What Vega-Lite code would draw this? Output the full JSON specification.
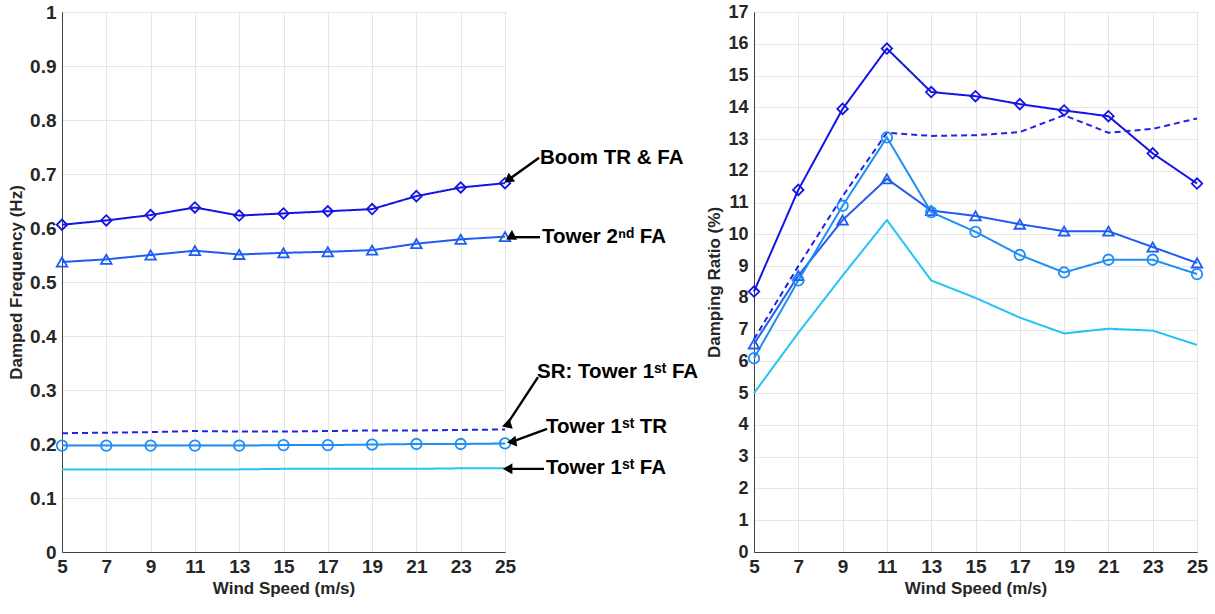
{
  "$schema": "https://vega.github.io/schema/vega-lite/v6.json",
  "padding": {"left": 7, "top": 2, "right": 10, "bottom": 5},
  "bounds": "flush",
  "spacing": 249,
  "background": "white",
  "config": {
    "font": "Liberation Sans",
    "view": {"stroke": "#404040", "strokeWidth": 1},
    "axis": {
      "labelFont": "Liberation Sans", "labelFontWeight": "bold", "labelFontSize": 19, "labelColor": "#262626",
      "titleFont": "Liberation Sans", "titleFontSize": 17, "titleFontWeight": "bold", "titleColor": "#262626",
      "gridColor": "#e6e6e6", "domainColor": "#404040", "ticks": false, "labelFlush": false
    },
    "axisX": {"labelPadding": 5, "titlePadding": 4},
    "axisY": {"labelPadding": 6, "titlePadding": 4}
  },
  "datasets": {
    "freq": [
      {"ws": 5, "mode": "Boom TR & FA", "value": 0.606}, {"ws": 7, "mode": "Boom TR & FA", "value": 0.614}, {"ws": 9, "mode": "Boom TR & FA", "value": 0.624}, {"ws": 11, "mode": "Boom TR & FA", "value": 0.638}, {"ws": 13, "mode": "Boom TR & FA", "value": 0.623}, {"ws": 15, "mode": "Boom TR & FA", "value": 0.627}, {"ws": 17, "mode": "Boom TR & FA", "value": 0.631}, {"ws": 19, "mode": "Boom TR & FA", "value": 0.635}, {"ws": 21, "mode": "Boom TR & FA", "value": 0.659}, {"ws": 23, "mode": "Boom TR & FA", "value": 0.675}, {"ws": 25, "mode": "Boom TR & FA", "value": 0.683},
      {"ws": 5, "mode": "Tower 2nd FA", "value": 0.537}, {"ws": 7, "mode": "Tower 2nd FA", "value": 0.542}, {"ws": 9, "mode": "Tower 2nd FA", "value": 0.550}, {"ws": 11, "mode": "Tower 2nd FA", "value": 0.558}, {"ws": 13, "mode": "Tower 2nd FA", "value": 0.551}, {"ws": 15, "mode": "Tower 2nd FA", "value": 0.554}, {"ws": 17, "mode": "Tower 2nd FA", "value": 0.556}, {"ws": 19, "mode": "Tower 2nd FA", "value": 0.559}, {"ws": 21, "mode": "Tower 2nd FA", "value": 0.571}, {"ws": 23, "mode": "Tower 2nd FA", "value": 0.579}, {"ws": 25, "mode": "Tower 2nd FA", "value": 0.584},
      {"ws": 5, "mode": "SR: Tower 1st FA", "value": 0.220}, {"ws": 7, "mode": "SR: Tower 1st FA", "value": 0.221}, {"ws": 9, "mode": "SR: Tower 1st FA", "value": 0.222}, {"ws": 11, "mode": "SR: Tower 1st FA", "value": 0.224}, {"ws": 13, "mode": "SR: Tower 1st FA", "value": 0.223}, {"ws": 15, "mode": "SR: Tower 1st FA", "value": 0.223}, {"ws": 17, "mode": "SR: Tower 1st FA", "value": 0.224}, {"ws": 19, "mode": "SR: Tower 1st FA", "value": 0.225}, {"ws": 21, "mode": "SR: Tower 1st FA", "value": 0.225}, {"ws": 23, "mode": "SR: Tower 1st FA", "value": 0.226}, {"ws": 25, "mode": "SR: Tower 1st FA", "value": 0.227},
      {"ws": 5, "mode": "Tower 1st TR", "value": 0.197}, {"ws": 7, "mode": "Tower 1st TR", "value": 0.197}, {"ws": 9, "mode": "Tower 1st TR", "value": 0.197}, {"ws": 11, "mode": "Tower 1st TR", "value": 0.197}, {"ws": 13, "mode": "Tower 1st TR", "value": 0.197}, {"ws": 15, "mode": "Tower 1st TR", "value": 0.198}, {"ws": 17, "mode": "Tower 1st TR", "value": 0.198}, {"ws": 19, "mode": "Tower 1st TR", "value": 0.199}, {"ws": 21, "mode": "Tower 1st TR", "value": 0.200}, {"ws": 23, "mode": "Tower 1st TR", "value": 0.200}, {"ws": 25, "mode": "Tower 1st TR", "value": 0.201},
      {"ws": 5, "mode": "Tower 1st FA", "value": 0.153}, {"ws": 7, "mode": "Tower 1st FA", "value": 0.153}, {"ws": 9, "mode": "Tower 1st FA", "value": 0.153}, {"ws": 11, "mode": "Tower 1st FA", "value": 0.153}, {"ws": 13, "mode": "Tower 1st FA", "value": 0.153}, {"ws": 15, "mode": "Tower 1st FA", "value": 0.154}, {"ws": 17, "mode": "Tower 1st FA", "value": 0.154}, {"ws": 19, "mode": "Tower 1st FA", "value": 0.154}, {"ws": 21, "mode": "Tower 1st FA", "value": 0.154}, {"ws": 23, "mode": "Tower 1st FA", "value": 0.155}, {"ws": 25, "mode": "Tower 1st FA", "value": 0.155}
    ],
    "damp": [
      {"ws": 5, "mode": "Boom TR & FA", "value": 8.2}, {"ws": 7, "mode": "Boom TR & FA", "value": 11.4}, {"ws": 9, "mode": "Boom TR & FA", "value": 13.95}, {"ws": 11, "mode": "Boom TR & FA", "value": 15.85}, {"ws": 13, "mode": "Boom TR & FA", "value": 14.48}, {"ws": 15, "mode": "Boom TR & FA", "value": 14.35}, {"ws": 17, "mode": "Boom TR & FA", "value": 14.1}, {"ws": 19, "mode": "Boom TR & FA", "value": 13.9}, {"ws": 21, "mode": "Boom TR & FA", "value": 13.72}, {"ws": 23, "mode": "Boom TR & FA", "value": 12.55}, {"ws": 25, "mode": "Boom TR & FA", "value": 11.6},
      {"ws": 5, "mode": "Tower 2nd FA", "value": 6.55}, {"ws": 7, "mode": "Tower 2nd FA", "value": 8.7}, {"ws": 9, "mode": "Tower 2nd FA", "value": 10.45}, {"ws": 11, "mode": "Tower 2nd FA", "value": 11.75}, {"ws": 13, "mode": "Tower 2nd FA", "value": 10.75}, {"ws": 15, "mode": "Tower 2nd FA", "value": 10.58}, {"ws": 17, "mode": "Tower 2nd FA", "value": 10.32}, {"ws": 19, "mode": "Tower 2nd FA", "value": 10.1}, {"ws": 21, "mode": "Tower 2nd FA", "value": 10.1}, {"ws": 23, "mode": "Tower 2nd FA", "value": 9.6}, {"ws": 25, "mode": "Tower 2nd FA", "value": 9.1},
      {"ws": 5, "mode": "SR: Tower 1st FA", "value": 6.7}, {"ws": 7, "mode": "SR: Tower 1st FA", "value": 9.0}, {"ws": 9, "mode": "SR: Tower 1st FA", "value": 11.2}, {"ws": 11, "mode": "SR: Tower 1st FA", "value": 13.2}, {"ws": 13, "mode": "SR: Tower 1st FA", "value": 13.1}, {"ws": 15, "mode": "SR: Tower 1st FA", "value": 13.12}, {"ws": 17, "mode": "SR: Tower 1st FA", "value": 13.22}, {"ws": 19, "mode": "SR: Tower 1st FA", "value": 13.75}, {"ws": 21, "mode": "SR: Tower 1st FA", "value": 13.2}, {"ws": 23, "mode": "SR: Tower 1st FA", "value": 13.32}, {"ws": 25, "mode": "SR: Tower 1st FA", "value": 13.65},
      {"ws": 5, "mode": "Tower 1st TR", "value": 6.1}, {"ws": 7, "mode": "Tower 1st TR", "value": 8.55}, {"ws": 9, "mode": "Tower 1st TR", "value": 10.9}, {"ws": 11, "mode": "Tower 1st TR", "value": 13.05}, {"ws": 13, "mode": "Tower 1st TR", "value": 10.7}, {"ws": 15, "mode": "Tower 1st TR", "value": 10.08}, {"ws": 17, "mode": "Tower 1st TR", "value": 9.35}, {"ws": 19, "mode": "Tower 1st TR", "value": 8.8}, {"ws": 21, "mode": "Tower 1st TR", "value": 9.2}, {"ws": 23, "mode": "Tower 1st TR", "value": 9.2}, {"ws": 25, "mode": "Tower 1st TR", "value": 8.75},
      {"ws": 5, "mode": "Tower 1st FA", "value": 5.0}, {"ws": 7, "mode": "Tower 1st FA", "value": 6.9}, {"ws": 9, "mode": "Tower 1st FA", "value": 8.7}, {"ws": 11, "mode": "Tower 1st FA", "value": 10.45}, {"ws": 13, "mode": "Tower 1st FA", "value": 8.55}, {"ws": 15, "mode": "Tower 1st FA", "value": 8.0}, {"ws": 17, "mode": "Tower 1st FA", "value": 7.38}, {"ws": 19, "mode": "Tower 1st FA", "value": 6.88}, {"ws": 21, "mode": "Tower 1st FA", "value": 7.03}, {"ws": 23, "mode": "Tower 1st FA", "value": 6.97}, {"ws": 25, "mode": "Tower 1st FA", "value": 6.52}
    ],
    "notes": [
      {"label": "Boom TR & FA", "tx": 26.58, "ty": 0.730, "ax": 26.54, "ay": 0.730, "hx": 25.14, "hy": 0.689},
      {"label": "Tower 2ⁿᵈ FA", "tx": 26.67, "ty": 0.583, "ax": 26.58, "ay": 0.583, "hx": 25.24, "hy": 0.583},
      {"label": "SR: Tower 1ˢᵗ FA", "tx": 26.45, "ty": 0.333, "ax": 26.49, "ay": 0.324, "hx": 25.07, "hy": 0.235},
      {"label": "Tower 1ˢᵗ TR", "tx": 26.85, "ty": 0.231, "ax": 26.9, "ay": 0.228, "hx": 25.3, "hy": 0.204},
      {"label": "Tower 1ˢᵗ FA", "tx": 26.85, "ty": 0.155, "ax": 26.76, "ay": 0.154, "hx": 25.12, "hy": 0.154}
    ]
  },
  "hconcat": [
    {
      "width": 443, "height": 540,
      "layer": [
        {
          "data": {"name": "freq"},
          "mark": {"type": "line", "strokeWidth": 2},
          "encoding": {
            "x": {"field": "ws", "type": "quantitative", "title": "Wind Speed (m/s)", "scale": {"domain": [5, 25], "nice": false, "zero": false}, "axis": {"values": [5, 7, 9, 11, 13, 15, 17, 19, 21, 23, 25], "labelOverlap": false}},
            "y": {"field": "value", "type": "quantitative", "title": "Damped Frequency (Hz)", "scale": {"domain": [0, 1], "nice": false}, "axis": {"values": [0, 0.1, 0.2, 0.3, 0.4, 0.5, 0.6, 0.7, 0.8, 0.9, 1], "format": "~g", "labelOverlap": false}},
            "color": {"field": "mode", "type": "nominal", "legend": null, "scale": {"domain": ["Boom TR & FA", "Tower 2nd FA", "SR: Tower 1st FA", "Tower 1st TR", "Tower 1st FA"], "range": ["#1414e6", "#1f5cf2", "#2323e8", "#1f8ef5", "#25c3f5"]}},
            "strokeDash": {"field": "mode", "type": "nominal", "legend": null, "scale": {"domain": ["Boom TR & FA", "Tower 2nd FA", "SR: Tower 1st FA", "Tower 1st TR", "Tower 1st FA"], "range": [[1, 0], [1, 0], [6, 4], [1, 0], [1, 0]]}}
          }
        },
        {
          "data": {"name": "freq"},
          "transform": [{"filter": "datum.mode !== 'SR: Tower 1st FA' && datum.mode !== 'Tower 1st FA'"}],
          "mark": {"type": "point", "filled": false, "strokeWidth": 1.8, "size": 110, "opacity": 1},
          "encoding": {
            "x": {"field": "ws", "type": "quantitative"},
            "y": {"field": "value", "type": "quantitative"},
            "color": {"field": "mode", "type": "nominal", "legend": null},
            "shape": {"field": "mode", "type": "nominal", "legend": null, "scale": {"domain": ["Boom TR & FA", "Tower 2nd FA", "Tower 1st TR"], "range": ["diamond", "triangle-up", "circle"]}}
          }
        },
        {
          "data": {"name": "notes"},
          "mark": {"type": "rule", "color": "black", "strokeWidth": 2.4},
          "encoding": {
            "x": {"field": "ax", "type": "quantitative"},
            "y": {"field": "ay", "type": "quantitative"},
            "x2": {"field": "hx"},
            "y2": {"field": "hy"}
          }
        },
        {
          "data": {"name": "notes"},
          "mark": {"type": "point", "shape": "triangle-up", "filled": true, "color": "black", "size": 120, "opacity": 1},
          "encoding": {
            "x": {"field": "hx", "type": "quantitative"},
            "y": {"field": "hy", "type": "quantitative"},
            "angle": {"field": "label", "type": "nominal", "legend": null, "scale": {"domain": ["Boom TR & FA", "Tower 2ⁿᵈ FA", "SR: Tower 1ˢᵗ FA", "Tower 1ˢᵗ TR", "Tower 1ˢᵗ FA"], "range": [233, 270, 213, 249, 270]}}
          }
        },
        {
          "data": {"name": "notes"},
          "mark": {"type": "text", "align": "left", "baseline": "middle", "font": "Liberation Sans", "fontWeight": "bold", "fontSize": 20.5, "color": "black"},
          "encoding": {
            "x": {"field": "tx", "type": "quantitative"},
            "y": {"field": "ty", "type": "quantitative"},
            "text": {"field": "label"}
          }
        }
      ]
    },
    {
      "width": 443, "height": 540,
      "encoding": {
        "x": {"field": "ws", "type": "quantitative", "title": "Wind Speed (m/s)", "scale": {"domain": [5, 25], "nice": false, "zero": false}, "axis": {"values": [5, 7, 9, 11, 13, 15, 17, 19, 21, 23, 25], "labelOverlap": false}},
        "y": {"field": "value", "type": "quantitative", "title": "Damping Ratio (%)", "scale": {"domain": [0, 17], "nice": false}, "axis": {"values": [0, 1, 2, 3, 4, 5, 6, 7, 8, 9, 10, 11, 12, 13, 14, 15, 16, 17], "labelOverlap": false, "labelSeparation": 0, "labelBound": false, "labelFontSize": 18}},
        "color": {"field": "mode", "type": "nominal", "legend": null, "scale": {"domain": ["Boom TR & FA", "Tower 2nd FA", "SR: Tower 1st FA", "Tower 1st TR", "Tower 1st FA"], "range": ["#1414e6", "#1f5cf2", "#2323e8", "#1f8ef5", "#25c3f5"]}}
      },
      "layer": [
        {
          "data": {"name": "damp"},
          "mark": {"type": "line", "strokeWidth": 2},
          "encoding": {
            "strokeDash": {"field": "mode", "type": "nominal", "legend": null, "scale": {"domain": ["Boom TR & FA", "Tower 2nd FA", "SR: Tower 1st FA", "Tower 1st TR", "Tower 1st FA"], "range": [[1, 0], [1, 0], [6, 4], [1, 0], [1, 0]]}}
          }
        },
        {
          "data": {"name": "damp"},
          "transform": [{"filter": "datum.mode !== 'SR: Tower 1st FA' && datum.mode !== 'Tower 1st FA'"}],
          "mark": {"type": "point", "filled": false, "strokeWidth": 1.8, "size": 110, "opacity": 1},
          "encoding": {
            "shape": {"field": "mode", "type": "nominal", "legend": null, "scale": {"domain": ["Boom TR & FA", "Tower 2nd FA", "Tower 1st TR"], "range": ["diamond", "triangle-up", "circle"]}}
          }
        }
      ]
    }
  ]
}
